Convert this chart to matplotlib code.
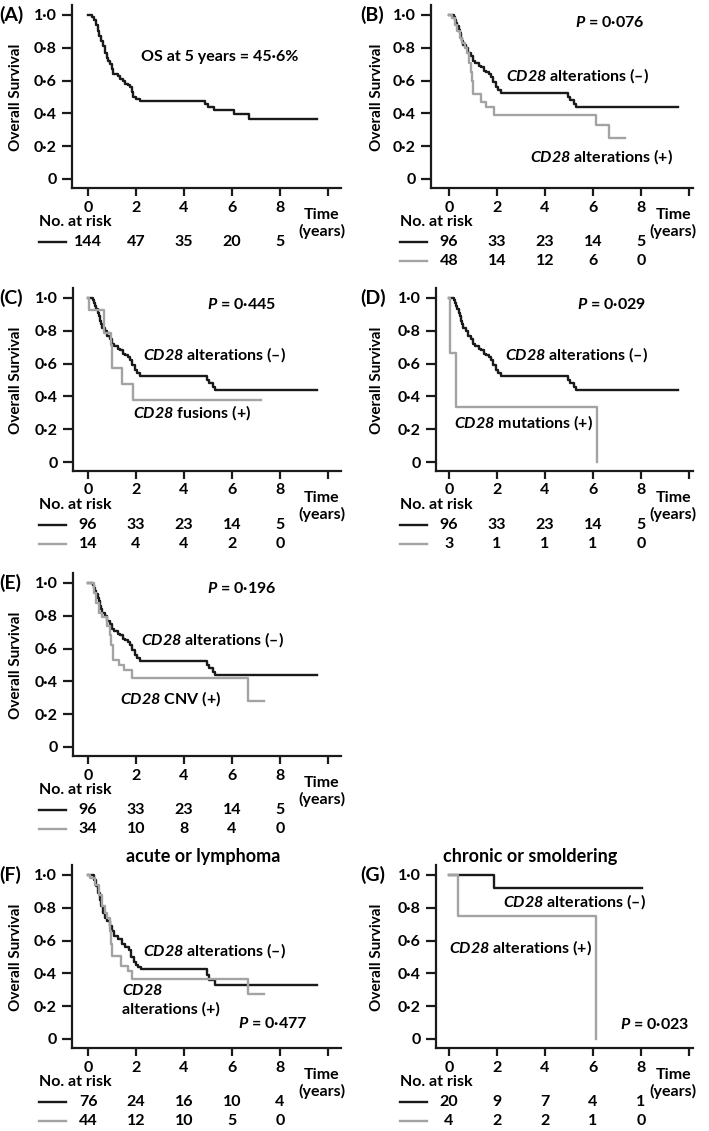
import matplotlib
matplotlib.use('Agg')
import matplotlib.pyplot as plt

plt.rcParams['font.family'] = ['Lato', 'DejaVu Sans']
plt.rcParams['font.weight'] = 'bold'
plt.rcParams['mathtext.fontset'] = 'custom'
plt.rcParams['mathtext.it'] = 'Lato:italic:bold'
plt.rcParams['mathtext.rm'] = 'Lato:italic:bold'

BLACK = '#1a1a1a'
GREY = '#a3a3a3'

# --- Kaplan-Meier step data (time in years, survival) ---
all_t = [0, 0.15, 0.25, 0.33, 0.4, 0.47, 0.55, 0.62, 0.7, 0.78, 0.85, 0.92, 1.0, 1.06,
         1.25, 1.35, 1.45, 1.55, 1.65, 1.75, 1.82, 1.88, 2.0, 2.15, 4.88, 5.0, 5.25, 6.1, 6.7]
all_s = [1.0, 0.99, 0.97, 0.94, 0.90, 0.87, 0.84, 0.81, 0.77, 0.74, 0.72, 0.70, 0.67, 0.64,
         0.63, 0.61, 0.60, 0.58, 0.575, 0.56, 0.53, 0.50, 0.49, 0.477, 0.46, 0.44, 0.42, 0.395, 0.368]
all_end = 9.53

neg_t = [0, 0.2, 0.25, 0.3, 0.35, 0.4, 0.45, 0.5, 0.55, 0.6, 0.7, 0.8, 0.9, 1.0, 1.1, 1.25,
         1.35, 1.45, 1.55, 1.65, 1.75, 1.85, 1.95, 2.05, 2.15, 4.95, 5.05, 5.2, 5.3]
neg_s = [1.0, 0.99, 0.97, 0.95, 0.93, 0.91, 0.89, 0.86, 0.84, 0.82, 0.80, 0.77, 0.75, 0.72, 0.71,
         0.69, 0.68, 0.66, 0.65, 0.64, 0.62, 0.59, 0.56, 0.54, 0.524, 0.50, 0.48, 0.46, 0.44]
neg_end = 9.55

alt_t = [0, 0.12, 0.25, 0.35, 0.45, 0.55, 0.65, 0.75, 0.85, 0.9, 0.95, 1.0, 1.35, 1.55, 1.87, 6.13, 6.68]
alt_s = [1.0, 0.98, 0.94, 0.90, 0.86, 0.83, 0.80, 0.77, 0.71, 0.65, 0.60, 0.52, 0.47, 0.44, 0.39, 0.33, 0.25]
alt_end = 7.34

fus_t = [0, 0.05, 0.65, 0.95, 1.0, 1.4, 1.88]
fus_s = [1.0, 0.929, 0.786, 0.714, 0.571, 0.476, 0.381]
fus_end = 7.2

mut_t = [0, 0.03, 0.28, 6.15]
mut_s = [1.0, 0.667, 0.333, 0.0]
mut_end = 6.15

cnv_t = [0, 0.25, 0.35, 0.45, 0.6, 0.8, 0.9, 0.95, 1.05, 1.3, 1.5, 1.85, 6.68]
cnv_s = [1.0, 0.94, 0.88, 0.82, 0.79, 0.74, 0.68, 0.62, 0.53, 0.50, 0.47, 0.418, 0.28]
cnv_end = 7.35

acute_neg_t = [0, 0.25, 0.32, 0.4, 0.48, 0.56, 0.64, 0.72, 0.8, 0.9, 1.0, 1.1, 1.25, 1.4,
               1.55, 1.7, 1.8, 1.9, 2.0, 2.1, 2.2, 4.95, 5.05, 5.3]
acute_neg_s = [1.0, 0.97, 0.93, 0.89, 0.85, 0.81, 0.77, 0.74, 0.72, 0.69, 0.66, 0.63, 0.61, 0.58,
               0.56, 0.54, 0.50, 0.47, 0.45, 0.44, 0.427, 0.39, 0.36, 0.33]
acute_neg_end = 9.53

acute_pos_t = [0, 0.1, 0.3, 0.44, 0.57, 0.7, 0.8, 0.9, 0.95, 1.0, 1.36, 1.68, 1.85, 6.68]
acute_pos_s = [1.0, 0.98, 0.94, 0.88, 0.81, 0.77, 0.74, 0.66, 0.58, 0.504, 0.443, 0.413, 0.366, 0.274]
acute_pos_end = 7.35

chronic_neg_t = [0, 1.88]
chronic_neg_s = [1.0, 0.923]
chronic_neg_end = 8.04

chronic_pos_t = [0, 0.38, 6.13]
chronic_pos_s = [1.0, 0.75, 0.0]
chronic_pos_end = 6.13

# --- numbers at risk ---
risk_times = [0, 2, 4, 6, 8]
risk_all = [144, 47, 35, 20, 5]
risk_neg = [96, 33, 23, 14, 5]
risk_alt = [48, 14, 12, 6, 0]
risk_fus = [14, 4, 4, 2, 0]
risk_mut = [3, 1, 1, 1, 0]
risk_cnv = [34, 10, 8, 4, 0]
risk_acute_neg = [76, 24, 16, 10, 4]
risk_acute_pos = [44, 12, 10, 5, 0]
risk_chronic_neg = [20, 9, 7, 4, 1]
risk_chronic_pos = [4, 2, 2, 1, 0]

y_ticks = [0, 0.2, 0.4, 0.6, 0.8, 1.0]
y_tick_labels = ['0', '0·2', '0·4', '0·6', '0·8', '1·0']
x_ticks = [0, 2, 4, 6, 8, 10]
x_tick_labels = ['0', '2', '4', '6', '8', '']

NEG = r'$\it{CD28}$ alterations (–)'
POS = r'$\it{CD28}$ alterations (+)'

W, H = 709, 1131
PX_YEAR = 24.0
PX_UNIT = 164.0
FS = 11.5

fig = plt.figure(figsize=(W / 100, H / 100), dpi=100)


def make_panel(spine_x, x0, right, y1, label, time_x=9.75):
    # place the axes in pixel units so that t=0 / S=1 land where the original has them
    bottom_px = y1 + PX_UNIT + 9
    top_px = y1 - 10
    ax = fig.add_axes([spine_x / W, 1 - bottom_px / H,
                       (right - spine_x) / W, (bottom_px - top_px) / H])
    ax.set_xlim(-(x0 - spine_x) / PX_YEAR, (right - x0) / PX_YEAR)
    ax.set_ylim(-9 / PX_UNIT, 1 + 10 / PX_UNIT)
    for side in ['top', 'right']:
        ax.spines[side].set_visible(False)
    for side in ['left', 'bottom']:
        ax.spines[side].set_linewidth(1.6)
        ax.spines[side].set_color(BLACK)
    ax.set_yticks(y_ticks)
    ax.set_yticklabels(y_tick_labels)
    ax.set_xticks(x_ticks)
    ax.set_xticklabels(x_tick_labels)
    ax.tick_params(axis='y', length=7, width=1.6, pad=4, labelsize=FS, color=BLACK)
    ax.tick_params(axis='x', length=6, width=1.6, pad=3, labelsize=FS, color=BLACK)
    ax.set_facecolor('none')

    ax.text(-3.02, 0.5, 'Overall Survival', rotation=90, ha='center', va='center',
            fontsize=11, clip_on=False)
    ax.text(-3.7, 1.0, label, ha='left', va='center', fontsize=14, clip_on=False)
    ax.text(time_x, -0.271, 'Time\n(years)', ha='center', va='center', fontsize=FS,
            linespacing=1.1, clip_on=False)
    ax.text(-2.05, -0.262, 'No. at risk', ha='left', va='center', fontsize=FS, clip_on=False)
    return ax


def km(ax, t, s, end, color):
    ax.step(t + [end], s + [s[-1]], where='post', color=color, lw=1.7, clip_on=False)


def risk_row(ax, values, row, color):
    y = [-0.384, -0.50][row]
    ax.plot([-2.05, -0.9], [y, y], color=color, lw=1.7, clip_on=False)
    for t, n in zip(risk_times, values):
        ax.text(t, y, str(n), ha='center', va='center', fontsize=FS, clip_on=False)


def txt(ax, x, y, s, **kw):
    ax.text(x, y, s, ha=kw.pop('ha', 'center'), va='center', fontsize=kw.pop('fontsize', FS), **kw)


# (A) all patients
ax = make_panel(72, 88, 341, 15, '(A)')
km(ax, all_t, all_s, all_end, BLACK)
txt(ax, 5.5, 0.744, 'OS at 5 years = 45·6%')
risk_row(ax, risk_all, 0, BLACK)

# (B) any CD28 alteration
ax = make_panel(431, 449, 693, 15, '(B)', time_x=9.35)
km(ax, neg_t, neg_s, neg_end, BLACK)
km(ax, alt_t, alt_s, alt_end, GREY)
txt(ax, 6.68, 0.957, r'$\it{P}$ = 0·076')
txt(ax, 5.34, 0.628, NEG)
txt(ax, 6.37, 0.136, POS)
risk_row(ax, risk_neg, 0, BLACK)
risk_row(ax, risk_alt, 1, GREY)

# (C) fusions
ax = make_panel(73, 88, 341, 298, '(C)')
km(ax, neg_t, neg_s, neg_end, BLACK)
km(ax, fus_t, fus_s, fus_end, GREY)
txt(ax, 6.38, 0.958, r'$\it{P}$ = 0·445')
txt(ax, 5.28, 0.655, NEG)
txt(ax, 4.35, 0.30, r'$\it{CD28}$ fusions (+)')
risk_row(ax, risk_neg, 0, BLACK)
risk_row(ax, risk_fus, 1, GREY)

# (D) mutations
ax = make_panel(436, 449, 693, 298, '(D)', time_x=9.35)
km(ax, neg_t, neg_s, neg_end, BLACK)
km(ax, mut_t, mut_s, mut_end, GREY)
txt(ax, 6.76, 0.958, r'$\it{P}$ = 0·029')
txt(ax, 5.31, 0.655, NEG)
txt(ax, 3.12, 0.24, r'$\it{CD28}$ mutations (+)')
risk_row(ax, risk_neg, 0, BLACK)
risk_row(ax, risk_mut, 1, GREY)

# (E) copy number variation
ax = make_panel(73, 88, 341, 583, '(E)')
km(ax, neg_t, neg_s, neg_end, BLACK)
km(ax, cnv_t, cnv_s, cnv_end, GREY)
txt(ax, 6.39, 0.968, r'$\it{P}$ = 0·196')
txt(ax, 5.2, 0.652, NEG)
txt(ax, 3.45, 0.297, r'$\it{CD28}$ CNV (+)')
risk_row(ax, risk_neg, 0, BLACK)
risk_row(ax, risk_cnv, 1, GREY)

# (F) acute or lymphoma
ax = make_panel(72, 88, 341, 875, '(F)')
km(ax, acute_neg_t, acute_neg_s, acute_neg_end, BLACK)
km(ax, acute_pos_t, acute_pos_s, acute_pos_end, GREY)
txt(ax, 4.8, 1.11, 'acute or lymphoma', fontsize=13, clip_on=False)
txt(ax, 5.28, 0.538, NEG)
txt(ax, 1.4, 0.24, '$\\it{CD28}$\nalterations (+)', ha='left', linespacing=1.3)
txt(ax, 7.69, 0.096, r'$\it{P}$ = 0·477')
risk_row(ax, risk_acute_neg, 0, BLACK)
risk_row(ax, risk_acute_pos, 1, GREY)

# (G) chronic or smoldering
ax = make_panel(436, 449, 693, 875, '(G)', time_x=9.35)
km(ax, chronic_neg_t, chronic_neg_s, chronic_neg_end, BLACK)
km(ax, chronic_pos_t, chronic_pos_s, chronic_pos_end, GREY)
txt(ax, 3.36, 1.11, 'chronic or smoldering', fontsize=13, clip_on=False)
txt(ax, 5.23, 0.837, NEG)
txt(ax, 2.98, 0.559, POS)
txt(ax, 8.55, 0.091, r'$\it{P}$ = 0·023')
risk_row(ax, risk_chronic_neg, 0, BLACK)
risk_row(ax, risk_chronic_pos, 1, GREY)

fig.savefig('out.png', dpi=100)
